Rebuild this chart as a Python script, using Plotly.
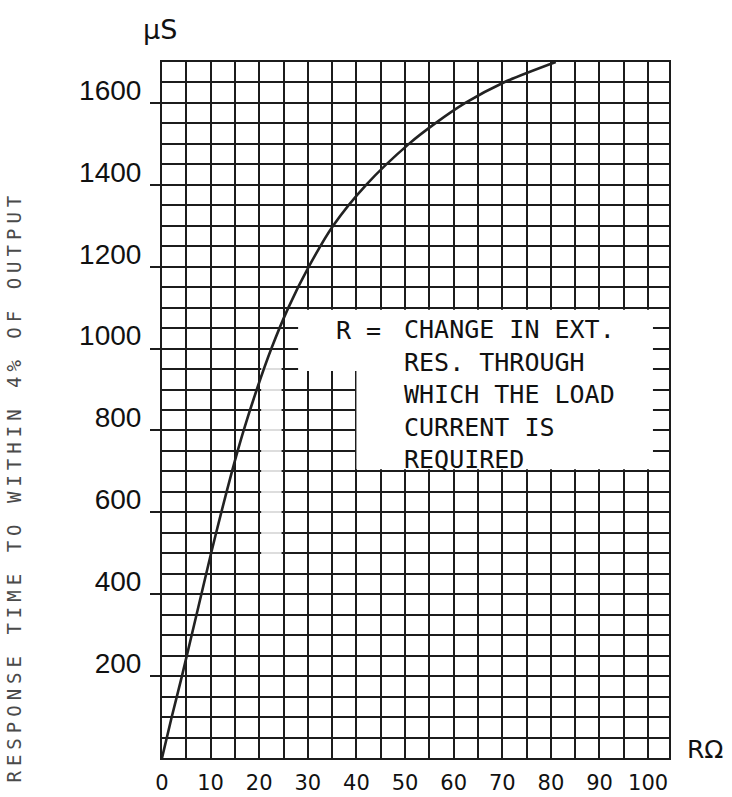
import plotly.graph_objects as go

# Data (response time in microseconds vs change in resistance)
r_ohm = [0, 2.0, 4.1, 6.1, 8.1, 10.1, 12.2, 14.4, 16.8, 19.5, 22.5, 26.0, 30.2, 35.2, 42.0, 50.8, 56.2, 62.4, 70.3, 81.0]
resp_us = [0, 100, 200, 300, 400, 500, 600, 700, 800, 900, 1000, 1100, 1200, 1300, 1400, 1500, 1550, 1600, 1650, 1700]

x_ticks = [0, 10, 20, 30, 40, 50, 60, 70, 80, 90, 100]
x_tick_labels = ["0", "10", "20", "30", "40", "50", "60", "70", "80", "90", "100"]
y_ticks = [200, 400, 600, 800, 1000, 1200, 1400, 1600]
y_tick_labels = ["200", "400", "600", "800", "1000", "1200", "1400", "1600"]

note_lines = ["CHANGE IN EXT.", "RES. THROUGH", "WHICH THE LOAD", "CURRENT IS", "REQUIRED"]

GRID = "#1c1c1c"

fig = go.Figure()
fig.add_trace(go.Scatter(
    x=r_ohm, y=resp_us, mode="lines",
    line=dict(color="#222222", width=2.6, shape="spline", smoothing=0.8),
    showlegend=False, hoverinfo="skip",
))

fig.update_layout(
    width=732, height=797,
    margin=dict(l=162, r=63, t=62, b=39),
    paper_bgcolor="white", plot_bgcolor="white",
    xaxis=dict(
        range=[0, 104.3], tickvals=x_ticks, ticktext=x_tick_labels,
        showgrid=True, gridcolor=GRID, gridwidth=1.8,
        minor=dict(dtick=5, tick0=0, showgrid=True, gridcolor=GRID, gridwidth=1.8),
        showline=True, linecolor=GRID, linewidth=2, mirror=True,
        ticks="", zeroline=False, automargin=False,
        tickfont=dict(family="DejaVu Sans", size=21, color="#111111"),
        ticklabelstandoff=5,
    ),
    yaxis=dict(
        range=[0, 1700], tickvals=y_ticks, ticktext=y_tick_labels,
        showgrid=True, gridcolor=GRID, gridwidth=1.8,
        minor=dict(dtick=50, tick0=0, showgrid=True, gridcolor=GRID, gridwidth=1.8),
        showline=True, linecolor=GRID, linewidth=2, mirror=True,
        ticks="outside", ticklen=10, tickwidth=2, tickcolor=GRID,
        zeroline=False, automargin=False,
        tickfont=dict(family="Liberation Sans", size=28, color="#111111"),
        ticklabelshift=-13, ticklabelstandoff=3,
    ),
)

# white note box (erased grid region)
fig.add_shape(type="rect", xref="x", yref="y", x0=28, x1=101, y0=945, y1=1095,
              fillcolor="white", line=dict(width=0), layer="between")
fig.add_shape(type="rect", xref="x", yref="y", x0=40, x1=101, y0=705, y1=945,
              fillcolor="white", line=dict(width=0), layer="between")
# faded strip left of the box
fig.add_shape(type="rect", xref="x", yref="y", x0=20.4, x1=24.6, y0=485, y1=960,
              fillcolor="white", opacity=0.85, line=dict(width=0), layer="between")

mono = dict(family="DejaVu Sans Mono", size=25, color="#111111")
fig.add_annotation(xref="x", yref="y", x=35.4, y=1045, text="R =",
                   showarrow=False, xanchor="left", yanchor="middle", font=mono)
fig.add_annotation(xref="x", yref="y", x=49.4, y=889, text="<br>".join(note_lines),
                   showarrow=False, xanchor="left", yanchor="middle", align="left", font=mono)

# axis unit labels
fig.add_annotation(xref="paper", yref="paper", x=-0.004, y=1.047, text="\u03bcS",
                   showarrow=False, xanchor="center", yanchor="middle",
                   font=dict(family="DejaVu Sans", size=27, color="#111111"))
fig.add_annotation(xref="paper", yref="paper", x=1.071, y=0.012, text="R\u03a9",
                   showarrow=False, xanchor="center", yanchor="middle",
                   font=dict(family="DejaVu Sans", size=25, color="#111111"))

# y axis title
fig.add_annotation(xref="paper", yref="paper", x=-0.292, y=0.39,
                   text='<span style="letter-spacing:5.0px">RESPONSE TIME TO WITHIN 4% OF OUTPUT</span>',
                   textangle=-90, showarrow=False, xanchor="center", yanchor="middle",
                   font=dict(family="DejaVu Sans Mono", size=19, color="#4a4a4a"))

fig.write_html("out.html", config={"displayModeBar": False},
               post_script="document.body.style.margin='0';document.body.style.overflow='hidden';")
